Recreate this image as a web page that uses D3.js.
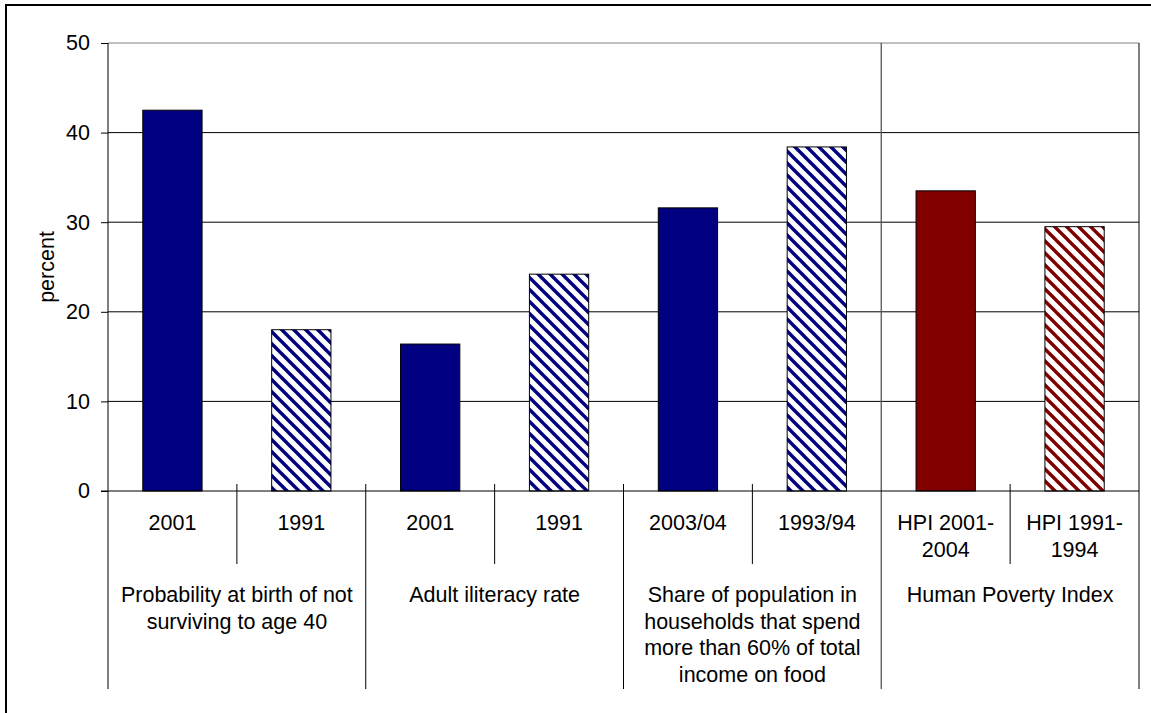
<!DOCTYPE html>
<html>
<head>
<meta charset="utf-8">
<script src="https://cdn.jsdelivr.net/npm/d3@7"></script>
<style>
  html, body { margin: 0; padding: 0; background: #fff; }
  svg { display: block; }
  text { font-family: "Liberation Sans", Arial, sans-serif; fill: #000; }
</style>
</head>
<body>
<svg id="chart" width="1151" height="713"></svg>
<script>
// Bar labels (first axis level), one array of lines per bar
const barLabels = [
  ["2001"], ["1991"],
  ["2001"], ["1991"],
  ["2003/04"], ["1993/94"],
  ["HPI 2001-", "2004"], ["HPI 1991-", "1994"]
];
// Percent values per bar
const values = [42.5, 18.0, 16.4, 24.2, 31.6, 38.4, 33.5, 29.5];
// Solid (recent period) or hatched (earlier period)
const periods = ["recent", "earlier", "recent", "earlier", "recent", "earlier", "recent", "earlier"];
// Indicator family: component of the index or the index itself
const families = ["component", "component", "component", "component", "component", "component", "index", "index"];
// Second axis level: indicator groups, two bars each
const groupLabels = [
  ["Probability at birth of not", "surviving to age 40"],
  ["Adult iliteracy rate"],
  ["Share of population in", "households that spend", "more than 60% of total", "income on food"],
  ["Human Poverty Index"]
];
const yTicks = [0, 10, 20, 30, 40, 50];
const yTitle = "percent";

const colors = { component: "#000080", index: "#800000" };

const svg = d3.select("#chart");
const plot = { left: 108, right: 1139, top: 43, bottom: 491 };
const fontSize = 21.5;
const lineGap = 26.7;

// Hatch patterns (downward diagonal stripes)
const defs = svg.append("defs");
Object.entries(colors).forEach(([key, col]) => {
  const p = defs.append("pattern")
    .attr("id", "hatch-" + key)
    .attr("patternUnits", "userSpaceOnUse")
    .attr("width", 12).attr("height", 12);
  p.append("rect").attr("width", 12).attr("height", 12).attr("fill", "#fff");
  p.append("path")
    .attr("d", "M-3,-3 L15,15 M9,-3 L15,3 M-3,9 L3,15")
    .attr("stroke", col).attr("stroke-width", 3.4).attr("fill", "none");
});

// Outer frame
svg.append("rect")
  .attr("x", 6).attr("y", 5).attr("width", 1160).attr("height", 720)
  .attr("fill", "none").attr("stroke", "#000").attr("stroke-width", 2);

const idx = d3.range(values.length);
const x = d3.scaleBand().domain(idx).range([plot.left, plot.right])
  .paddingInner(0.54).paddingOuter(0.27);
const step = x.step();
const y = d3.scaleLinear().domain([0, 50]).range([plot.bottom, plot.top]);

// Horizontal gridlines
svg.append("g").selectAll("line")
  .data(yTicks.filter(t => t > 0))
  .join("line")
  .attr("x1", plot.left).attr("x2", plot.right)
  .attr("y1", d => y(d)).attr("y2", d => y(d))
  .attr("stroke", d => d === 50 ? "#808080" : "#000").attr("stroke-width", 1);

// Vertical divider before the index group, running through plot and labels
const slotLeft = i => plot.left + step * i;
const groupBottom = 689;
svg.append("line")
  .attr("x1", slotLeft(6)).attr("x2", slotLeft(6))
  .attr("y1", plot.top).attr("y2", groupBottom)
  .attr("stroke", "#555").attr("stroke-width", 1.3);

// Right border of plot area
svg.append("line")
  .attr("x1", plot.right).attr("x2", plot.right)
  .attr("y1", plot.top).attr("y2", groupBottom)
  .attr("stroke", "#000").attr("stroke-width", 1);

// Bars
svg.append("g").selectAll("rect")
  .data(idx)
  .join("rect")
  .attr("x", i => x(i))
  .attr("width", x.bandwidth())
  .attr("y", i => y(values[i]))
  .attr("height", i => y(0) - y(values[i]))
  .attr("fill", i => periods[i] === "recent" ? colors[families[i]] : `url(#hatch-${families[i]})`)
  .attr("stroke", "#000").attr("stroke-width", 1);

// Y axis
const yAxis = d3.axisLeft(y).tickValues(yTicks).tickSize(7).tickPadding(11);
const gy = svg.append("g").attr("transform", `translate(${plot.left},0)`).call(yAxis);
gy.select(".domain").remove();
gy.selectAll(".tick line").attr("stroke", "#000");
gy.selectAll(".tick text").attr("font-size", fontSize).attr("fill", "#000")
  .style("font-family", '"Liberation Sans", Arial, sans-serif');
svg.append("line")
  .attr("x1", plot.left).attr("x2", plot.left)
  .attr("y1", plot.top).attr("y2", groupBottom)
  .attr("stroke", "#000");

// X axis baseline
svg.append("line")
  .attr("x1", plot.left - 7).attr("x2", plot.right)
  .attr("y1", plot.bottom).attr("y2", plot.bottom)
  .attr("stroke", "#000");

// Y title
svg.append("text")
  .attr("transform", `translate(47,267) rotate(-90)`)
  .attr("text-anchor", "middle").attr("dominant-baseline", "central")
  .attr("font-size", fontSize)
  .text(yTitle);

// Separators between bars within a group
svg.append("g").selectAll("line")
  .data([1, 3, 5, 7])
  .join("line")
  .attr("x1", i => slotLeft(i)).attr("x2", i => slotLeft(i))
  .attr("y1", plot.bottom - 7).attr("y2", 564)
  .attr("stroke", "#000");

// Separators between groups
svg.append("g").selectAll("line")
  .data([2, 4])
  .join("line")
  .attr("x1", i => slotLeft(i)).attr("x2", i => slotLeft(i))
  .attr("y1", plot.bottom - 7).attr("y2", groupBottom)
  .attr("stroke", "#000");

// Bar labels
const barText = svg.append("g").selectAll("text")
  .data(idx)
  .join("text")
  .attr("text-anchor", "middle")
  .attr("font-size", fontSize)
  .attr("x", i => x(i) + x.bandwidth() / 2)
  .attr("y", 523);
barText.selectAll("tspan")
  .data(i => barLabels[i].map((t, k) => ({ t, k, cx: x(i) + x.bandwidth() / 2 })))
  .join("tspan")
  .attr("x", d => d.cx)
  .attr("y", d => 523 + d.k * lineGap)
  .attr("dominant-baseline", "central")
  .text(d => d.t);

// Group labels
const groupText = svg.append("g").selectAll("text")
  .data(groupLabels.map((lines, g) => ({ lines, cx: slotLeft(2 * g + 1) })))
  .join("text")
  .attr("text-anchor", "middle")
  .attr("font-size", fontSize);
groupText.selectAll("tspan")
  .data(d => d.lines.map((t, k) => ({ t, k, cx: d.cx })))
  .join("tspan")
  .attr("x", d => d.cx)
  .attr("y", d => 595 + d.k * lineGap)
  .attr("dominant-baseline", "central")
  .text(d => d.t);
</script>
</body>
</html>
